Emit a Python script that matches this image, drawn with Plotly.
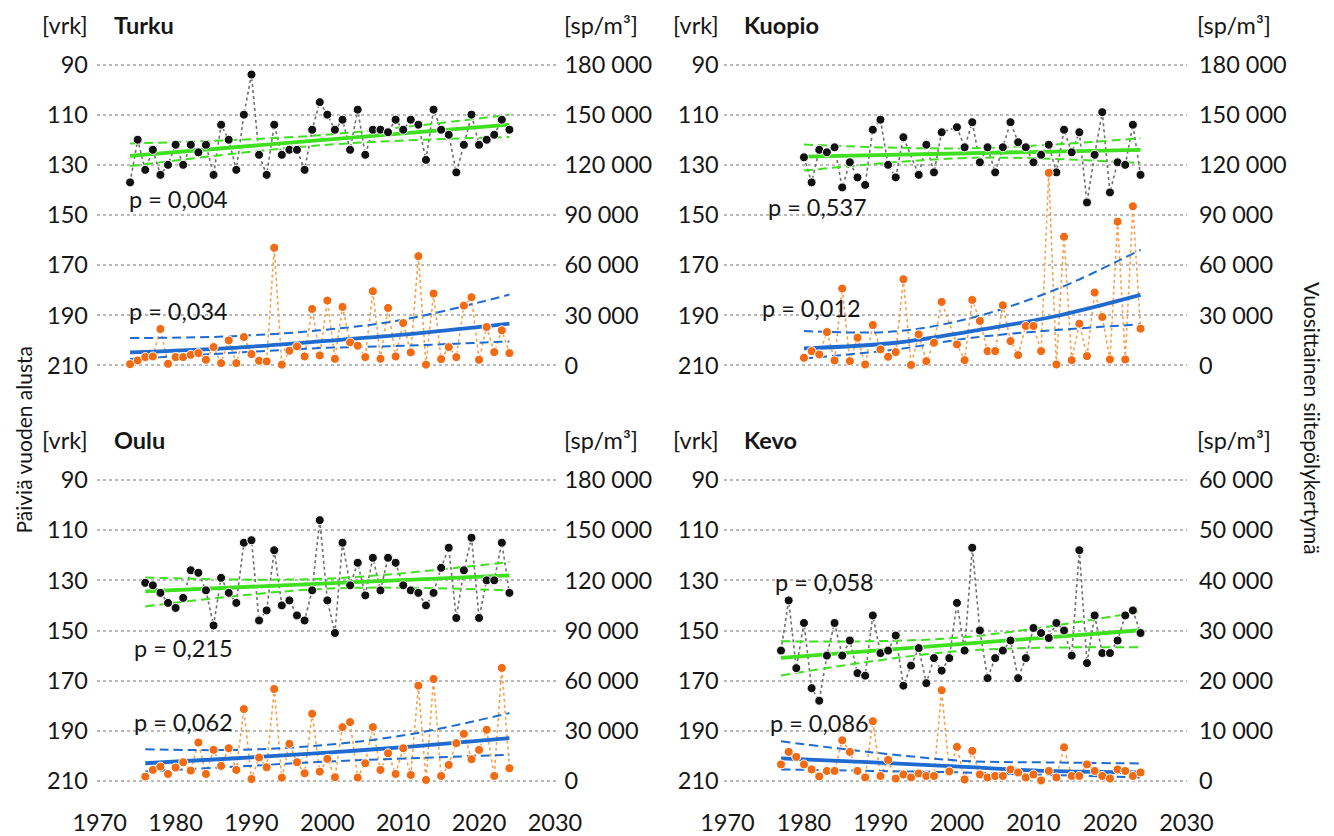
import plotly.graph_objects as go

W, H = 1334, 836

# ---------------- data ----------------
turku_years = list(range(1974, 2025))
turku_day = [137, 120, 132, 124, 134, 130, 122, 130, 122, 125,
             122, 134, 114, 120, 132, 110, 94, 126, 134, 114,
             126, 124, 124, 132, 116, 105, 110, 116, 112, 124,
             108, 126, 116, 116, 117, 112, 116, 112, 114, 128,
             108, 116, 118, 133, 122, 110, 122, 120, 118, 112, 116]
turku_pollen_years = turku_years
turku_pollen = [800, 3000, 5000, 5400, 21800, 1000, 5000, 5000, 6400, 7400,
                3400, 11000, 1400, 15000, 1400, 17000, 6800, 2800, 2400, 70400,
                500, 8800, 11400, 5400, 33800, 6000, 38800, 4000, 35000, 13800,
                11800, 5000, 44400, 4000, 34400, 5400, 25400, 7800, 65400, 500,
                43000, 3800, 11000, 5000, 35800, 40800, 3400, 23000, 8000, 21000, 7400]

kuopio_years = [y for y in range(1980, 2025) if y not in (1994, 1999)]
kuopio_day = [127, 137, 124, 125, 123, 139, 129, 135, 138, 116,
              112, 130, 135, 119, 134, 122, 133, 117, 115, 123,
              113, 129, 123, 133, 123, 113, 121, 123, 129, 126,
              122, 133, 116, 125, 117, 145, 126, 109, 141, 129,
              130, 114, 134]
kuopio_pollen_years = [y for y in range(1980, 2025) if y != 1999]
kuopio_pollen = [4600, 8600, 6600, 20000, 3000, 46000, 2600, 16600, 600, 24200,
                 9600, 5200, 8000, 51600, 300, 18600, 2600, 13600, 38000, 12600,
                 3200, 39200, 26600, 8600, 8600, 36000, 14600, 6200, 23600, 23600,
                 8600, 115200, 600, 77000, 3200, 25000, 5600, 43600, 29000, 3600,
                 86000, 3600, 95200, 22000]

oulu_years = list(range(1976, 2025))
oulu_day = [131, 132, 135, 139, 141, 137, 126, 127, 134, 148,
            129, 135, 139, 115, 114, 146, 142, 118, 140, 138,
            144, 146, 134, 106, 138, 151, 115, 132, 123, 136,
            121, 134, 121, 123, 132, 134, 135, 140, 135, 125,
            117, 145, 126, 113, 145, 130, 130, 115, 135]
oulu_pollen_years = oulu_years
oulu_pollen = [2600, 6600, 8600, 4200, 8000, 11200, 6200, 23000, 4200, 18600,
               9000, 19600, 6600, 43000, 1200, 14000, 8200, 55000, 2000, 22200,
               11200, 4600, 40200, 5600, 13200, 2200, 32200, 35200, 2000, 10600,
               32200, 6600, 16600, 4200, 19600, 3600, 57000, 600, 61000, 3000,
               9600, 22600, 28200, 13000, 18600, 30600, 3000, 67600, 7600]

kevo_years = list(range(1977, 2025))
kevo_day = [158, 138, 165, 147, 173, 178, 160, 147, 160, 154,
            167, 168, 144, 159, 158, 152, 172, 164, 157, 171,
            161, 166, 161, 139, 158, 117, 150, 169, 161, 158,
            154, 169, 161, 149, 151, 153, 147, 150, 160, 118,
            163, 144, 159, 159, 154, 144, 142, 151]
kevo_pollen_years = kevo_years
kevo_pollen = [3300, 5800, 4800, 3300, 2300, 900, 2000, 2000, 8100, 5800,
               2000, 700, 11900, 1000, 4200, 500, 1300, 700, 1500, 1000,
               1000, 18100, 1900, 6800, 300, 6000, 1300, 700, 1000, 1000,
               2300, 1700, 700, 1300, 100, 2000, 700, 6700, 1000, 1000,
               3300, 2000, 1000, 500, 2300, 2000, 1000, 1700]

# trend lines (start-day trend: green, pollen trend: blue)
turku_dtrend_years = [1974, 1999, 2024]
turku_dtrend = [126.4, 120.2, 114.0]
turku_dtrend_a = [121.5, 118.2, 110.0]
turku_dtrend_b = [130.5, 122.2, 118.9]
turku_ptrend_years = [1974, 1987, 1999, 2010, 2024]
turku_ptrend = [7800, 10400, 14400, 18400, 25000]
turku_ptrend_a = [16400, 17400, 21000, 27400, 42400]
turku_ptrend_b = [3800, 7400, 10400, 11800, 14400]

kuopio_dtrend_years = [1980, 2002, 2024]
kuopio_dtrend = [126.7, 125.4, 124.0]
kuopio_dtrend_a = [121.9, 123.4, 119.4]
kuopio_dtrend_b = [132.3, 127.2, 129.3]
kuopio_ptrend_years = [1980, 1992, 2002, 2013, 2024]
kuopio_ptrend = [10200, 13600, 20600, 29600, 42200]
kuopio_ptrend_a = [20600, 20400, 28600, 45600, 69200]
kuopio_ptrend_b = [4200, 9600, 16600, 21200, 24600]

oulu_dtrend_years = [1976, 2000, 2024]
oulu_dtrend = [134.4, 131.2, 128.0]
oulu_dtrend_a = [128.9, 129.3, 122.7]
oulu_dtrend_b = [140.4, 133.3, 134.0]
oulu_ptrend_years = [1976, 1988, 2000, 2011, 2024]
oulu_ptrend = [10600, 13600, 17000, 20600, 25600]
oulu_ptrend_a = [19000, 18600, 21600, 28000, 40600]
oulu_ptrend_b = [5600, 8600, 11600, 13600, 15600]

kevo_dtrend_years = [1977, 2000, 2024]
kevo_dtrend = [160.9, 155.5, 149.9]
kevo_dtrend_a = [154.3, 152.9, 142.5]
kevo_dtrend_b = [167.9, 158.3, 156.7]
kevo_ptrend_years = [1977, 1989, 2001, 2012, 2024]
kevo_ptrend = [4500, 3700, 2800, 2000, 1700]
kevo_ptrend_a = [7900, 5700, 4000, 3700, 3500]
kevo_ptrend_b = [2300, 2000, 1700, 1200, 700]

day_ticks = [90, 110, 130, 150, 170, 190, 210]
pollen_ticks_big = [0, 30000, 60000, 90000, 120000, 150000, 180000]
pollen_ticks_kevo = [0, 10000, 20000, 30000, 40000, 50000, 60000]
year_ticks = [1970, 1980, 1990, 2000, 2010, 2020, 2030]

stations = [
    dict(name="Turku", p_day="p = 0,004", p_pol="p = 0,034",
         dy=turku_years, d=turku_day, py=turku_pollen_years, p=turku_pollen,
         dty=turku_dtrend_years, dt=turku_dtrend, dta=turku_dtrend_a, dtb=turku_dtrend_b,
         pty=turku_ptrend_years, pt=turku_ptrend, pta=turku_ptrend_a, ptb=turku_ptrend_b,
         pticks=pollen_ticks_big, per_day=1500),
    dict(name="Kuopio", p_day="p = 0,537", p_pol="p = 0,012",
         dy=kuopio_years, d=kuopio_day, py=kuopio_pollen_years, p=kuopio_pollen,
         dty=kuopio_dtrend_years, dt=kuopio_dtrend, dta=kuopio_dtrend_a, dtb=kuopio_dtrend_b,
         pty=kuopio_ptrend_years, pt=kuopio_ptrend, pta=kuopio_ptrend_a, ptb=kuopio_ptrend_b,
         pticks=pollen_ticks_big, per_day=1500),
    dict(name="Oulu", p_day="p = 0,215", p_pol="p = 0,062",
         dy=oulu_years, d=oulu_day, py=oulu_pollen_years, p=oulu_pollen,
         dty=oulu_dtrend_years, dt=oulu_dtrend, dta=oulu_dtrend_a, dtb=oulu_dtrend_b,
         pty=oulu_ptrend_years, pt=oulu_ptrend, pta=oulu_ptrend_a, ptb=oulu_ptrend_b,
         pticks=pollen_ticks_big, per_day=1500),
    dict(name="Kevo", p_day="p = 0,058", p_pol="p = 0,086",
         dy=kevo_years, d=kevo_day, py=kevo_pollen_years, p=kevo_pollen,
         dty=kevo_dtrend_years, dt=kevo_dtrend, dta=kevo_dtrend_a, dtb=kevo_dtrend_b,
         pty=kevo_ptrend_years, pt=kevo_ptrend, pta=kevo_ptrend_a, ptb=kevo_ptrend_b,
         pticks=pollen_ticks_kevo, per_day=500),
]

# ---------------- layout geometry (screen pixels) ----------------
FONT = "Lato, 'Open Sans', sans-serif"
TXT = "#161616"
FS = 23.5
OFF = 8  # page body margin
x_dom_px = [(96.7, 555.7), (724.4, 1187.2), (96.7, 555.7), (724.4, 1187.2)]
y_dom_px = [(57.0, 373.0), (57.0, 373.0), (472.5, 788.5), (472.5, 788.5)]
header_y = [25, 25, 440, 440]
left_lab_x = [90, 721, 90, 721]
name_x = [112, 742, 112, 742]
unit_x = [562, 1195, 562, 1195]
p_day_pos = [(127, 199), (766, 207), (132, 648), (773, 582)]
p_pol_pos = [(127, 311), (760, 308), (132, 722), (768, 723)]
DAY_LO, DAY_HI = 87, 213


def px(x):
    return (x - OFF) / W


def py(y):
    return 1 - (y - OFF) / H


GREEN = "#3fe01f"
BLUE = "#1f6bd0"
ORANGE = "#f26a12"
ORANGE_L = "#f5a24e"
DASH = "9px,5px"

fig = go.Figure()
annotations = []

for i, s in enumerate(stations):
    xa = "x" if i == 0 else f"x{i + 1}"
    yl = "y" if i == 0 else f"y{2 * i + 1}"
    yr = f"y{2 * i + 2}"
    # dotted connecting lines
    fig.add_trace(go.Scatter(x=s["dy"], y=s["d"], mode="lines", xaxis=xa, yaxis=yl,
                             line=dict(color="#6e6e6e", width=1.6, dash="dot")))
    fig.add_trace(go.Scatter(x=s["py"], y=s["p"], mode="lines", xaxis=xa, yaxis=yr,
                             line=dict(color=ORANGE_L, width=1.6, dash="dot")))
    # trends
    for arr in (s["dta"], s["dtb"]):
        fig.add_trace(go.Scatter(x=s["dty"], y=arr, mode="lines", xaxis=xa, yaxis=yl,
                                 line=dict(color=GREEN, width=2, dash=DASH, shape="spline")))
    fig.add_trace(go.Scatter(x=s["dty"], y=s["dt"], mode="lines", xaxis=xa, yaxis=yl,
                             line=dict(color=GREEN, width=3.8)))
    for arr in (s["pta"], s["ptb"]):
        fig.add_trace(go.Scatter(x=s["pty"], y=arr, mode="lines", xaxis=xa, yaxis=yr,
                                 line=dict(color=BLUE, width=2, dash=DASH, shape="spline")))
    fig.add_trace(go.Scatter(x=s["pty"], y=s["pt"], mode="lines", xaxis=xa, yaxis=yr,
                             line=dict(color=BLUE, width=3.8, shape="spline")))
    # markers
    fig.add_trace(go.Scatter(x=s["dy"], y=s["d"], mode="markers", xaxis=xa, yaxis=yl,
                             marker=dict(color="#111111", size=9,
                                         line=dict(color="white", width=1))))
    fig.add_trace(go.Scatter(x=s["py"], y=s["p"], mode="markers", xaxis=xa, yaxis=yr,
                             marker=dict(color=ORANGE, size=9,
                                         line=dict(color="white", width=1))))

    xd = [px(x_dom_px[i][0]), px(x_dom_px[i][1])]
    yd = [py(y_dom_px[i][1]), py(y_dom_px[i][0])]
    bottom = i >= 2
    xkey = "xaxis" if i == 0 else f"xaxis{i + 1}"
    ylkey = "yaxis" if i == 0 else f"yaxis{2 * i + 1}"
    yrkey = f"yaxis{2 * i + 2}"
    fig.layout[xkey] = dict(domain=xd, anchor=yl, range=[1969.6, 2030.1], automargin=False,
                            tickvals=year_ticks, ticktext=[str(v) for v in year_ticks],
                            showticklabels=bottom, ticks="outside" if bottom else "",
                            ticklen=13, tickcolor="rgba(0,0,0,0)",
                            showgrid=False, zeroline=False, showline=False,
                            tickfont=dict(family=FONT, size=FS, color=TXT))
    left_ticklen = 3 if i % 2 == 0 else 0
    fig.layout[ylkey] = dict(domain=yd, anchor=xa, range=[DAY_HI, DAY_LO], automargin=False,
                             tickvals=day_ticks, ticktext=[str(v) for v in day_ticks],
                             ticks="outside", ticklen=left_ticklen, tickcolor="rgba(0,0,0,0)",
                             showgrid=True, gridcolor="#b9b9b9", gridwidth=1.6, griddash="dot",
                             zeroline=False, showline=False,
                             tickfont=dict(family=FONT, size=FS, color=TXT))
    per = s["per_day"]
    right_ticklen = 3 if i % 2 == 0 else 6
    fig.layout[yrkey] = dict(overlaying=yl, anchor=xa, side="right", automargin=False,
                             range=[(210 - DAY_HI) * per, (210 - DAY_LO) * per],
                             tickvals=s["pticks"],
                             ticktext=[f"{v:,}".replace(",", "\u00a0") for v in s["pticks"]],
                             ticks="outside", ticklen=right_ticklen, tickcolor="rgba(0,0,0,0)",
                             showgrid=False, zeroline=False, showline=False,
                             tickfont=dict(family=FONT, size=FS, color=TXT))

    # header texts
    annotations.append(dict(text="[vrk]", x=px(left_lab_x[i]), y=py(header_y[i]),
                            xanchor="right", yanchor="middle"))
    annotations.append(dict(text=f"<b>{s['name']}</b>", x=px(name_x[i]), y=py(header_y[i]),
                            xanchor="left", yanchor="middle"))
    annotations.append(dict(text="[sp/m³]", x=px(unit_x[i]), y=py(header_y[i]),
                            xanchor="left", yanchor="middle"))
    annotations.append(dict(text=s["p_day"], x=px(p_day_pos[i][0]), y=py(p_day_pos[i][1]),
                            xanchor="left", yanchor="middle"))
    annotations.append(dict(text=s["p_pol"], x=px(p_pol_pos[i][0]), y=py(p_pol_pos[i][1]),
                            xanchor="left", yanchor="middle"))

annotations.append(dict(text="Päiviä vuoden alusta", x=px(8), y=py(440), textangle=-90,
                        xanchor="left", yanchor="middle", font=dict(size=21)))
annotations.append(dict(text="Vuosittainen siitepölykertymä", x=px(1312), y=py(418),
                        textangle=90, xanchor="center", yanchor="middle", font=dict(size=21)))

for a in annotations:
    a.setdefault("font", {})
    f = dict(family=FONT, size=FS, color=TXT)
    f.update(a["font"])
    a["font"] = f
    a.update(xref="paper", yref="paper", showarrow=False)

fig.update_layout(template="none", width=W, height=H, margin=dict(l=0, r=0, t=0, b=0),
                  paper_bgcolor="white", plot_bgcolor="white", showlegend=False,
                  annotations=annotations, font=dict(family=FONT, color=TXT))

fig.write_html("out.html")
